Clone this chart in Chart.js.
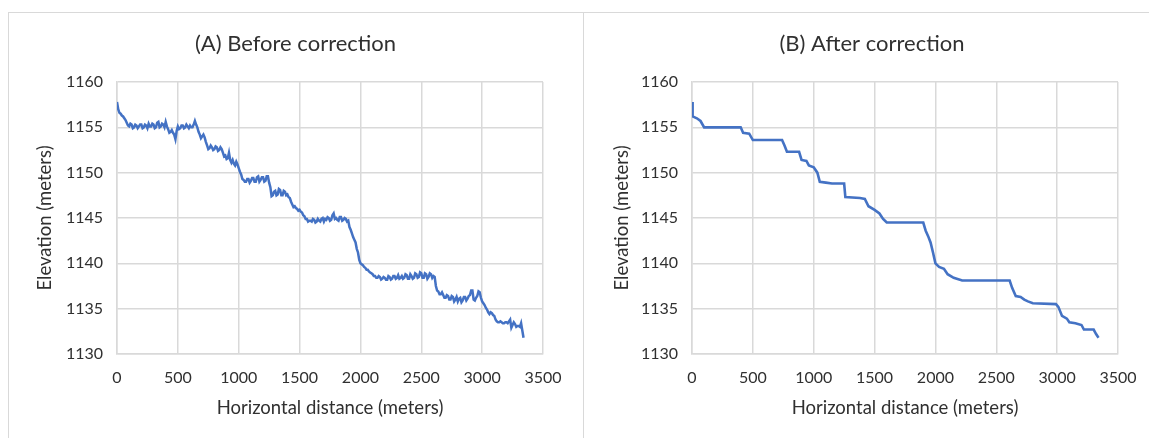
<!DOCTYPE html>
<html>
<head>
<meta charset="utf-8">
<script src="https://cdn.jsdelivr.net/npm/chart.js@4/dist/chart.umd.min.js"></script>
<style>
  html, body { margin: 0; padding: 0; background: #fff; }
  #wrap { position: relative; width: 1149px; height: 438px; overflow: hidden; background: #fff; }
  .frame { position: absolute; border: 1px solid #d9d9d9; box-sizing: border-box; }
  canvas { position: absolute; }
</style>
</head>
<body>
<div id="wrap">
  <div class="frame" style="left:8px; top:12px; width:576px; height:440px;"></div>
  <div class="frame" style="left:583px; top:12px; width:580px; height:440px;"></div>
  <canvas id="cA" style="left:9px; top:13px;" width="573" height="425"></canvas>
  <canvas id="cB" style="left:584px; top:13px;" width="576" height="425"></canvas>
</div>
<script>
// ---- Data ----
const titleA = "(A) Before correction";
const titleB = "(B) After correction";
const xTitle = "Horizontal distance (meters)";
const yTitle = "Elevation (meters)";
const xTicks = [0, 500, 1000, 1500, 2000, 2500, 3000, 3500];
const yTicks = [1130, 1135, 1140, 1145, 1150, 1155, 1160];

// (A) raw elevation profile, distance (m)
const distA = [
  0, 10, 20, 30, 40, 50, 60, 70, 80, 90, 100, 110, 120, 130, 140, 150, 160, 170, 180, 190,
  200, 210, 220, 230, 240, 250, 260, 270, 280, 290, 300, 310, 320, 330, 340, 350, 360, 370, 380, 390,
  400, 410, 420, 430, 440, 450, 460, 470, 480, 490, 500, 510, 520, 530, 540, 550, 560, 570, 580, 590,
  600, 610, 620, 630, 640, 650, 660, 670, 680, 690, 700, 710, 720, 730, 740, 750, 760, 770, 780, 790,
  800, 810, 820, 830, 840, 850, 860, 870, 880, 890, 900, 910, 920, 930, 940, 950, 960, 970, 980, 990,
  1000, 1010, 1020, 1030, 1040, 1050, 1060, 1070, 1080, 1090, 1100, 1110, 1120, 1130, 1140, 1150, 1160, 1170, 1180, 1190,
  1200, 1210, 1220, 1230, 1240, 1250, 1260, 1270, 1280, 1290, 1300, 1310, 1320, 1330, 1340, 1350, 1360, 1370, 1380, 1390,
  1400, 1410, 1420, 1430, 1440, 1450, 1460, 1470, 1480, 1490, 1500, 1510, 1520, 1530, 1540, 1550, 1560, 1570, 1580, 1590,
  1600, 1610, 1620, 1630, 1640, 1650, 1660, 1670, 1680, 1690, 1700, 1710, 1720, 1730, 1740, 1750, 1760, 1770, 1780, 1790,
  1800, 1810, 1820, 1830, 1840, 1850, 1860, 1870, 1880, 1890, 1900, 1910, 1920, 1930, 1940, 1950, 1960, 1970, 1980, 1990,
  2000, 2010, 2020, 2030, 2040, 2050, 2060, 2070, 2080, 2090, 2100, 2110, 2120, 2130, 2140, 2150, 2160, 2170, 2180, 2190,
  2200, 2210, 2220, 2230, 2240, 2250, 2260, 2270, 2280, 2290, 2300, 2310, 2320, 2330, 2340, 2350, 2360, 2370, 2380, 2390,
  2400, 2410, 2420, 2430, 2440, 2450, 2460, 2470, 2480, 2490, 2500, 2510, 2520, 2530, 2540, 2550, 2560, 2570, 2580, 2590,
  2600, 2610, 2620, 2630, 2640, 2650, 2660, 2670, 2680, 2690, 2700, 2710, 2720, 2730, 2740, 2750, 2760, 2770, 2780, 2790,
  2800, 2810, 2820, 2830, 2840, 2850, 2860, 2870, 2880, 2890, 2900, 2910, 2920, 2930, 2940, 2950, 2960, 2970, 2980, 2990,
  3000, 3010, 3020, 3030, 3040, 3050, 3060, 3070, 3080, 3090, 3100, 3110, 3120, 3130, 3140, 3150, 3160, 3170, 3180, 3190,
  3200, 3210, 3220, 3230, 3240, 3250, 3260, 3270, 3280, 3290, 3300, 3310, 3320, 3330, 3340
];
// (A) raw elevation profile, elevation (m)
const elevA = [
  1157.8, 1157.0, 1156.6, 1156.5, 1156.3, 1156.2, 1156.0, 1155.8, 1155.5, 1155.2, 1155.1, 1155.4, 1155.3, 1154.9, 1155.0, 1155.3, 1155.2, 1154.9, 1155.1, 1155.3,
  1155.3, 1154.9, 1155.0, 1155.3, 1155.2, 1154.9, 1155.4, 1155.1, 1155.1, 1155.4, 1155.3, 1154.9, 1155.0, 1155.5, 1155.6, 1155.0, 1155.1, 1155.4, 1155.3, 1155.0,
  1155.6, 1155.1, 1154.8, 1154.4, 1154.5, 1154.7, 1154.4, 1154.2, 1153.7, 1154.6, 1155.1, 1154.8, 1154.9, 1155.2, 1155.2, 1154.9, 1155.0, 1155.3, 1155.1, 1154.9,
  1155.2, 1155.0, 1155.0, 1155.3, 1155.7, 1155.3, 1155.0, 1154.5, 1154.2, 1153.8, 1154.0, 1154.2, 1153.9, 1153.4, 1153.0, 1152.6, 1152.7, 1153.0, 1152.8, 1152.5,
  1152.6, 1152.9, 1152.8, 1152.4, 1152.5, 1152.8, 1152.6, 1152.2, 1151.8, 1151.9, 1151.5, 1151.6, 1152.2, 1151.4, 1151.1, 1151.4, 1151.0, 1150.8, 1151.2, 1150.9,
  1150.5, 1150.1, 1149.8, 1149.3, 1149.2, 1149.0, 1149.0, 1149.3, 1149.3, 1148.9, 1149.1, 1149.4, 1149.4, 1149.0, 1149.0, 1149.5, 1149.6, 1149.0, 1149.2, 1149.5,
  1149.5, 1149.0, 1149.1, 1149.6, 1149.6, 1148.9, 1148.4, 1147.4, 1147.5, 1147.9, 1148.0, 1147.5, 1147.6, 1148.2, 1148.1, 1147.5, 1147.5, 1148.0, 1147.9, 1147.5,
  1147.6, 1147.3, 1147.2, 1146.8, 1146.5, 1146.2, 1146.3, 1146.1, 1146.0, 1145.8, 1145.9, 1145.7, 1145.6, 1145.3, 1145.2, 1144.9, 1144.9, 1144.6, 1144.7, 1144.7,
  1144.6, 1144.9, 1144.8, 1144.5, 1144.6, 1144.9, 1144.7, 1144.6, 1144.9, 1145.0, 1144.6, 1144.9, 1144.8, 1145.1, 1145.0, 1144.7, 1144.8, 1145.3, 1145.5, 1144.9,
  1145.0, 1144.8, 1144.7, 1145.1, 1145.1, 1144.7, 1144.8, 1145.0, 1144.9, 1144.6, 1144.7, 1144.0, 1143.7, 1143.3, 1142.9, 1142.6, 1142.3, 1141.6, 1141.2, 1140.4,
  1140.0, 1139.9, 1139.8, 1139.6, 1139.5, 1139.3, 1139.3, 1139.1, 1139.0, 1138.9, 1138.8, 1138.6, 1138.6, 1138.4, 1138.4, 1138.6, 1138.5, 1138.2, 1138.3, 1138.5,
  1138.4, 1138.2, 1138.2, 1138.6, 1138.5, 1138.2, 1138.3, 1138.6, 1138.6, 1138.3, 1138.4, 1138.7, 1138.3, 1138.4, 1138.6, 1138.3, 1138.4, 1138.8, 1138.7, 1138.3,
  1138.3, 1138.8, 1138.6, 1138.3, 1138.4, 1138.9, 1138.8, 1138.4, 1138.5, 1139.0, 1138.9, 1138.4, 1138.4, 1138.9, 1138.8, 1138.3, 1138.5, 1138.9, 1138.8, 1138.4,
  1138.6, 1138.5, 1137.5, 1137.0, 1136.9, 1136.6, 1136.6, 1136.8, 1136.5, 1136.2, 1136.2, 1136.5, 1136.4, 1136.0, 1136.0, 1136.4, 1136.3, 1135.8, 1136.0, 1136.3,
  1135.8, 1136.1, 1136.2, 1135.7, 1135.9, 1136.3, 1136.3, 1135.9, 1136.1, 1136.4, 1136.5, 1137.0, 1137.0, 1136.0, 1135.9, 1136.2, 1136.4, 1136.9, 1136.8, 1136.2,
  1135.8, 1135.6, 1135.4, 1135.1, 1134.9, 1134.6, 1134.4, 1134.6, 1134.5, 1134.3, 1134.2, 1133.8, 1133.6, 1133.5, 1133.5, 1133.6, 1133.5, 1133.4, 1133.4, 1133.5,
  1133.5, 1133.4, 1133.6, 1133.8, 1132.9, 1133.2, 1133.5, 1133.3, 1133.0, 1133.1, 1133.1, 1133.0, 1133.4, 1132.6, 1131.8
];

// (B) corrected profile, distance (m)
const distB = [
  0, 5, 40, 70, 100, 400, 420, 470, 500, 740,
  760, 780, 880, 900, 940, 960, 1000, 1030, 1050, 1100,
  1150, 1250, 1260, 1380, 1420, 1450, 1500, 1540, 1570, 1600,
  1900, 1920, 1940, 1960, 1980, 2000, 2030, 2070, 2100, 2150,
  2220, 2610, 2630, 2660, 2700, 2730, 2760, 2800, 2990, 3010,
  3040, 3080, 3100, 3150, 3200, 3220, 3300, 3320, 3340
];
// (B) corrected profile, elevation (m)
const elevB = [
  1157.8, 1156.2, 1156.0, 1155.7, 1155.0, 1155.0, 1154.4, 1154.3, 1153.6, 1153.6,
  1153.0, 1152.3, 1152.3, 1151.4, 1151.3, 1150.8, 1150.6, 1150.0, 1149.0, 1148.9,
  1148.8, 1148.8, 1147.3, 1147.2, 1147.1, 1146.3, 1145.9, 1145.5, 1144.9, 1144.5,
  1144.5, 1143.6, 1143.0, 1142.3, 1141.2, 1140.0, 1139.6, 1139.4, 1138.8, 1138.4,
  1138.1, 1138.1, 1137.3, 1136.4, 1136.3, 1136.0, 1135.8, 1135.6, 1135.5, 1135.2,
  1134.2, 1133.9, 1133.5, 1133.4, 1133.2, 1132.7, 1132.7, 1132.2, 1131.8
];

// ---- Chart building ----
const FONT = "Lato, 'Open Sans', sans-serif";
const LINE = '#4472C4';
const GRID = '#d9d9d9';
const TEXT = '#303030';

function toPoints(xs, ys) { return xs.map((x, i) => ({ x: x, y: ys[i] })); }

function makeChart(id, title, xs, ys, yTitlePad, lw, rightGap) {
  return new Chart(document.getElementById(id), {
    type: 'line',
    data: {
      datasets: [{
        data: toPoints(xs, ys),
        borderColor: LINE,
        borderWidth: lw,
        pointRadius: 0,
        tension: 0,
        fill: false
      }]
    },
    options: {
      responsive: false,
      animation: false,
      events: [],
      layout: { padding: 0 },
      plugins: {
        legend: { display: false },
        tooltip: { enabled: false },
        title: {
          display: true,
          text: title,
          color: TEXT,
          font: { family: FONT, size: 22, weight: 'normal', lineHeight: 1.2 },
          padding: { top: 18.2, bottom: 24.4 }
        }
      },
      scales: {
        x: {
          type: 'linear',
          min: xTicks[0],
          max: xTicks[xTicks.length - 1],
          afterBuildTicks: s => { s.ticks = xTicks.map(v => ({ value: v })); },
          afterFit: s => { s.height = 84; },
          grid: { color: GRID, lineWidth: 1.5, drawTicks: false },
          border: { color: GRID, width: 1.5 },
          ticks: { color: TEXT, font: { family: FONT, size: 16 }, padding: 14, maxRotation: 0,
                   callback: v => String(v) },
          title: {
            display: true, text: xTitle, color: TEXT,
            font: { family: FONT, size: 18.5, lineHeight: 1.2 },
            padding: { top: 0, bottom: 18.9 }
          }
        },
        y: {
          type: 'linear',
          min: yTicks[0],
          max: yTicks[yTicks.length - 1],
          afterBuildTicks: s => { s.ticks = yTicks.map(v => ({ value: v })); },
          afterFit: s => { s.width = 108; },
          grid: { color: GRID, lineWidth: 1.5, drawTicks: false },
          border: { color: GRID, width: 1.5 },
          ticks: { color: TEXT, font: { family: FONT, size: 16 }, padding: 14,
                   callback: v => String(v) },
          title: {
            display: true, text: yTitle, color: TEXT,
            font: { family: FONT, size: 18.5, lineHeight: 1.2 },
            padding: { top: yTitlePad, bottom: 0 }
          }
        },
        gap: {
          type: 'linear',
          position: 'right',
          min: yTicks[0],
          max: yTicks[yTicks.length - 1],
          grid: { display: false, drawTicks: false },
          border: { display: false },
          ticks: { display: false },
          afterFit: s => { s.width = rightGap; }
        }
      }
    }
  });
}

makeChart('cA', titleA, distA, elevA, 24.9, 2.5, 39);
makeChart('cB', titleB, distB, elevB, 26.9, 2.6, 42);
</script>
</body>
</html>
